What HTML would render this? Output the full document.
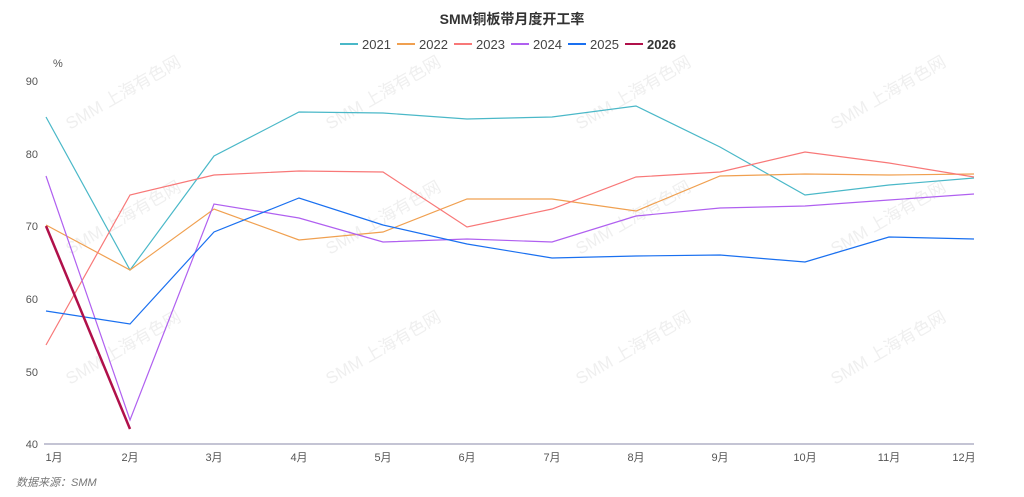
<!DOCTYPE html>
<html><head><meta charset="utf-8"><style>
body{margin:0;background:#fff;}
svg{display:block;font-family:"Liberation Sans","Noto Sans CJK SC",sans-serif;}
</style></head><body>
<svg width="1024" height="497" viewBox="0 0 1024 497">
<g fill="#eee" font-size="17" opacity="0.9">
<text transform="translate(70,385) rotate(-30)">SMM 上海有色网</text>
<text transform="translate(330,385) rotate(-30)">SMM 上海有色网</text>
<text transform="translate(580,385) rotate(-30)">SMM 上海有色网</text>
<text transform="translate(835,385) rotate(-30)">SMM 上海有色网</text>
<text transform="translate(70,255) rotate(-30)">SMM 上海有色网</text>
<text transform="translate(330,255) rotate(-30)">SMM 上海有色网</text>
<text transform="translate(580,255) rotate(-30)">SMM 上海有色网</text>
<text transform="translate(835,255) rotate(-30)">SMM 上海有色网</text>
<text transform="translate(70,130) rotate(-30)">SMM 上海有色网</text>
<text transform="translate(330,130) rotate(-30)">SMM 上海有色网</text>
<text transform="translate(580,130) rotate(-30)">SMM 上海有色网</text>
<text transform="translate(835,130) rotate(-30)">SMM 上海有色网</text>
</g>
<text x="512" y="24" text-anchor="middle" font-size="14" font-weight="bold" fill="#333">SMM铜板带月度开工率</text>
<g font-size="13" fill="#444">
<line x1="340" y1="44" x2="358" y2="44" stroke="#4ab8c8" stroke-width="2"/><text x="362" y="49">2021</text>
<line x1="397" y1="44" x2="415" y2="44" stroke="#f0a050" stroke-width="2"/><text x="419" y="49">2022</text>
<line x1="454" y1="44" x2="472" y2="44" stroke="#f87878" stroke-width="2"/><text x="476" y="49">2023</text>
<line x1="511" y1="44" x2="529" y2="44" stroke="#b060f0" stroke-width="2"/><text x="533" y="49">2024</text>
<line x1="568" y1="44" x2="586" y2="44" stroke="#1a70f0" stroke-width="2"/><text x="590" y="49">2025</text>
<line x1="625" y1="44" x2="643" y2="44" stroke="#b0104a" stroke-width="2"/><text x="647" y="49" font-weight="bold" fill="#333">2026</text>
</g>
<g font-size="11" fill="#555" text-anchor="end">
<text x="53" y="67" text-anchor="start">%</text>
<text x="38" y="85">90</text><text x="38" y="158">80</text><text x="38" y="230">70</text>
<text x="38" y="303">60</text><text x="38" y="376">50</text><text x="38" y="448">40</text>
</g>
<line x1="44" y1="444" x2="974" y2="444" stroke="#8a8aa8" stroke-width="1"/>
<g font-size="11" fill="#555" text-anchor="middle">
<text x="54" y="461">1月</text><text x="130" y="461">2月</text><text x="214" y="461">3月</text><text x="299" y="461">4月</text>
<text x="383" y="461">5月</text><text x="467" y="461">6月</text><text x="552" y="461">7月</text><text x="636" y="461">8月</text>
<text x="720" y="461">9月</text><text x="805" y="461">10月</text><text x="889" y="461">11月</text><text x="964" y="461">12月</text>
</g>
<text x="16" y="486" font-size="11" font-style="italic" fill="#777">数据来源：SMM</text>
<g fill="none" stroke-width="1.2">
<polyline stroke="#4ab8c8" points="46,117 130,270 214,156 299,112 383,113 467,119 552,117 636,106 720,147 805,195 889,185 974,178"/>
<polyline stroke="#f0a050" points="46,225 130,270 214,209 299,240 383,232 467,199 552,199 636,211 720,176 805,174 889,175 974,174"/>
<polyline stroke="#f87878" points="46,345 130,195 214,175 299,171 383,172 467,227 552,209 636,177 720,172 805,152 889,163 974,177"/>
<polyline stroke="#b060f0" points="46,176 130,420 214,204 299,218 383,242 467,239 552,242 636,216 720,208 805,206 889,200 974,194"/>
<polyline stroke="#1a70f0" points="46,311 130,324 214,232 299,198 383,225 467,244 552,258 636,256 720,255 805,262 889,237 974,239"/>
<polyline stroke="#b0104a" stroke-width="2.5" points="46,226 130,429"/>
</g>
</svg>
</body></html>
